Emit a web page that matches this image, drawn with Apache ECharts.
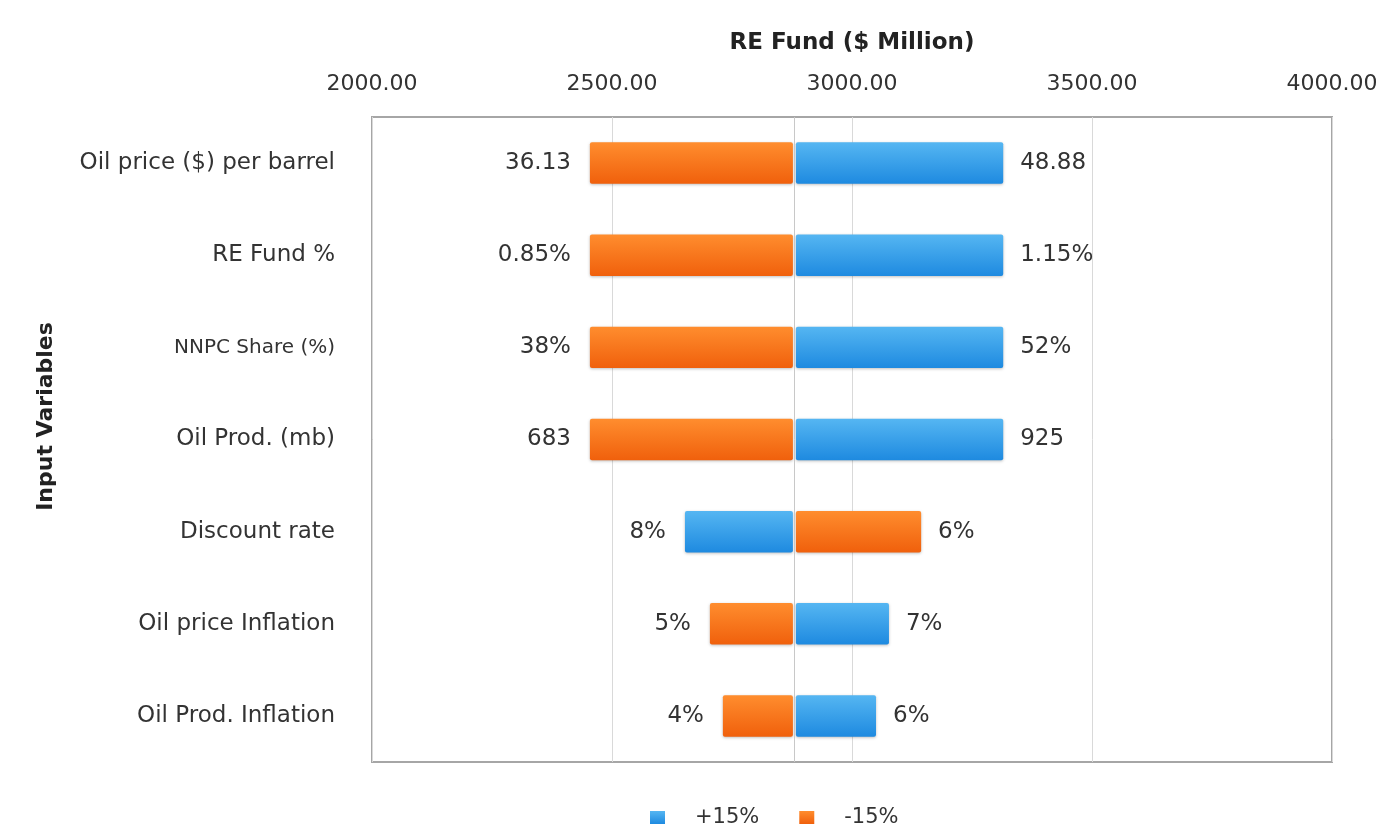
<!DOCTYPE html>
<html>
<head>
<meta charset="utf-8">
<script src="https://cdn.jsdelivr.net/npm/echarts@6/dist/echarts.min.js"></script>
<style>
  html, body { margin: 0; padding: 0; background: #fff; }
  #chart { width: 1376px; height: 827px; }
</style>
</head>
<body>
<div id="chart"></div>
<script>
// tornado data, RE Fund ($ Million)
const categories = ['Oil price ($) per barrel', 'RE Fund %', 'NNPC Share (%)', 'Oil Prod. (mb)',
                    'Discount rate', 'Oil price Inflation', 'Oil Prod. Inflation']
const baseValue = 2880
const plusValues = [3315, 3315, 3315, 3315, 2652, 3077, 3050]
const minusValues = [2454, 2454, 2454, 2454, 3144, 2704, 2731]
const plusLabels = ['48.88', '1.15%', '52%', '925', '8%', '7%', '6%']
const minusLabels = ['36.13', '0.85%', '38%', '683', '6%', '5%', '4%']
const xTicks = [2000, 2500, 3000, 3500, 4000]

const font = '"DejaVu Sans", "Open Sans", sans-serif'
const textColor = '#333333'

function grad(top, bottom) {
    return new echarts.graphic.LinearGradient(0, 0, 0, 1, [
        { offset: 0, color: top },
        { offset: 1, color: bottom }
    ])
}

function makeRender(labels) {
    return function (params, api) {
        let idx = api.value(1)
        let val = api.value(0)
        let p0 = api.coord([baseValue, idx])
        let p1 = api.coord([val, idx])
        let h = api.size([0, 1])[1] * 0.45
        let left = val < baseValue
        let w = Math.abs(p1[0] - p0[0]) - 1.5
        let x = left ? p1[0] : p0[0] + 1.5
        return {
            type: 'group',
            children: [
                {
                    type: 'rect',
                    shape: { x: x, y: p0[1] - h / 2, width: w, height: h, r: 2 },
                    style: Object.assign(api.style(), {
                        shadowBlur: 3, shadowOffsetY: 1, shadowColor: 'rgba(0,0,0,0.25)'
                    })
                },
                {
                    type: 'text',
                    x: left ? p1[0] - 19 : p1[0] + 17,
                    y: p0[1],
                    style: {
                        text: labels[params.dataIndex],
                        align: left ? 'right' : 'left',
                        verticalAlign: 'middle',
                        fontSize: 23,
                        fontFamily: font,
                        fill: textColor
                    }
                }
            ]
        }
    }
}

let chart = echarts.init(document.getElementById('chart'))

option = {
    animation: false,
    textStyle: { fontFamily: font },
    grid: {
        left: 372, right: 44, top: 117, bottom: 65,
        outerBoundsMode: 'none',
        show: true, borderColor: '#a6a6a6', borderWidth: 2
    },
    legend: {
        data: ['+15%', '-15%'],
        left: 645, top: 802,
        icon: 'rect', itemWidth: 15, itemHeight: 13, itemGap: 40,
        textStyle: { fontSize: 21, color: textColor, fontFamily: font, padding: [0, 0, 0, 25] }
    },
    xAxis: {
        type: 'value',
        position: 'top',
        min: xTicks[0],
        max: xTicks[xTicks.length - 1],
        interval: 500,
        name: 'RE Fund ($ Million)',
        nameLocation: 'middle',
        nameGap: 62,
        nameTextStyle: { fontSize: 23, fontWeight: 'bold', color: '#222', fontFamily: font },
        axisLine: { show: false },
        axisTick: { show: false },
        axisLabel: {
            fontSize: 22, color: textColor, margin: 22,
            formatter: v => v.toFixed(2)
        },
        splitLine: { lineStyle: { color: '#d9d9d9', width: 1 } }
    },
    yAxis: {
        type: 'category',
        data: categories,
        inverse: true,
        name: 'Input Variables',
        nameLocation: 'middle',
        nameGap: 315,
        nameTextStyle: { fontSize: 22, fontWeight: 'bold', color: '#222', fontFamily: font, padding: [0, 0, 0, 46] },
        axisLine: { show: false },
        axisTick: { show: false },
        axisLabel: {
            fontSize: 23, color: textColor, margin: 37,
            formatter: v => v === 'NNPC Share (%)' ? '{s|' + v + '}' : v,
            rich: { s: { fontSize: 20, color: textColor, fontFamily: font } }
        },
        splitLine: { show: false }
    },
    series: [
        {
            name: '+15%',
            type: 'custom',
            renderItem: makeRender(plusLabels),
            itemStyle: { color: grad('#55b6f2', '#1e8ae0') },
            encode: { x: 0, y: 1 },
            data: plusValues.map((v, i) => [v, i]),
            markLine: {
                silent: true,
                symbol: 'none',
                label: { show: false },
                lineStyle: { color: '#c8c8c8', type: 'solid', width: 1 },
                data: [{ xAxis: baseValue }]
            },
            z: 3
        },
        {
            name: '-15%',
            type: 'custom',
            renderItem: makeRender(minusLabels),
            itemStyle: { color: grad('#ff8d2e', '#f0600c') },
            encode: { x: 0, y: 1 },
            data: minusValues.map((v, i) => [v, i]),
            z: 3
        }
    ]
}

chart.setOption(option)
</script>
</body>
</html>
